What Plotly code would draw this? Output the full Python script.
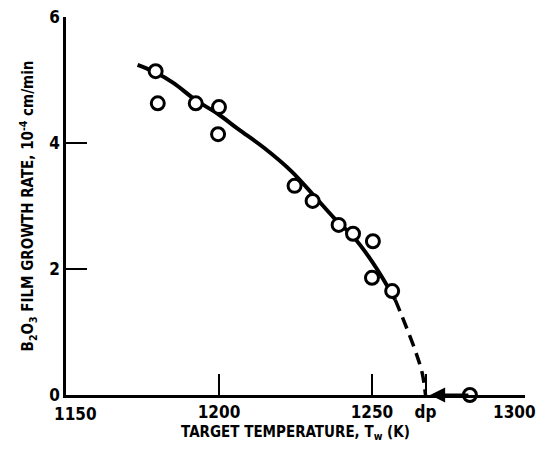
import plotly.graph_objects as go

# measured data points (target temperature K, growth rate 1e-4 cm/min)
temp_pts = [1179.3, 1180.0, 1192.4, 1200.0, 1199.7, 1224.7, 1230.6, 1239.1, 1243.8, 1250.3, 1250.0, 1256.6]
rate_pts = [5.14, 4.63, 4.63, 4.57, 4.14, 3.32, 3.08, 2.70, 2.56, 2.44, 1.86, 1.65]

# point at zero growth (beyond dp)
temp_zero = [1282.0]
rate_zero = [0.0]

# fitted curve, solid part
curve_t = [1173.4, 1179.3, 1185.2, 1192.4, 1199.7, 1206.3, 1214.8, 1223.7, 1231.3, 1237.8, 1244.1, 1249.3, 1253.3, 1257.6]
curve_v = [5.24, 5.12, 4.95, 4.68, 4.46, 4.22, 3.92, 3.55, 3.15, 2.80, 2.50, 2.17, 1.87, 1.51]

# extrapolated (dashed) part
dash_t = [1257.6, 1259.9, 1264.1, 1266.4, 1267.5]
dash_v = [1.51, 1.24, 0.71, 0.35, 0.0]

dp = 1267.5
x_tickvals = [1150, 1200, 1250, dp, 1300]
x_ticktext = ["", "1200", "1250", "dp", ""]
x_first_label = "1150"
x_last_label = "1300"
y_tickvals = [0, 2, 4, 6]
y_ticktext = ["0", "2", "4", "6"]

FONT = "DejaVu Sans Condensed, Liberation Sans Narrow, DejaVu Sans, sans-serif"

fig = go.Figure()
fig.add_trace(go.Scatter(x=curve_t, y=curve_v, mode="lines",
                         line=dict(color="black", width=4, shape="spline", smoothing=1.0),
                         showlegend=False, hoverinfo="skip"))
fig.add_trace(go.Scatter(x=dash_t, y=dash_v, mode="lines",
                         line=dict(color="black", width=3.5, dash="12px,7px", shape="spline"),
                         showlegend=False, hoverinfo="skip"))
fig.add_trace(go.Scatter(x=temp_pts, y=rate_pts, mode="markers",
                         marker=dict(symbol="circle", size=13, color="white",
                                     line=dict(color="black", width=3)),
                         showlegend=False))
fig.add_annotation(x=dp + 1.5, y=0, ax=temp_zero[0], ay=rate_zero[0],
                   xref="x", yref="y", axref="x", ayref="y",
                   showarrow=True, arrowhead=2, arrowsize=1.0, arrowwidth=3,
                   arrowcolor="black", text="")
fig.add_trace(go.Scatter(x=temp_zero, y=rate_zero, mode="markers",
                         marker=dict(symbol="circle", size=13, color="white",
                                     line=dict(color="black", width=3)),
                         showlegend=False, cliponaxis=False))
# end labels of the x axis, nudged as in the original
fig.add_annotation(x=1150, y=0, xref="x", yref="y", text="<b>" + x_first_label + "</b>",
                   showarrow=False, xanchor="center", yanchor="top",
                   xshift=9, yshift=-7,
                   font=dict(family=FONT, size=17, color="black"))
fig.add_annotation(x=1300, y=0, xref="x", yref="y", text="<b>" + x_last_label + "</b>",
                   showarrow=False, xanchor="right", yanchor="top",
                   xshift=13, yshift=-5,
                   font=dict(family=FONT, size=17, color="black"))

fig.update_layout(
    width=542, height=450,
    margin=dict(l=66, r=17, t=17, b=55, autoexpand=False),
    paper_bgcolor="white", plot_bgcolor="white",
    font=dict(family=FONT, color="black", size=15),
    xaxis=dict(range=[1150, 1300.01], tickvals=x_tickvals, ticktext=x_ticktext,
               ticks="inside", ticklen=21, tickwidth=1.5, tickcolor="black",
               automargin=False,
               showline=True, linecolor="black", linewidth=2.5,
               showgrid=False, zeroline=False,
               tickfont=dict(family=FONT, size=17, color="black", weight="bold"),
               title=dict(text="<b>TARGET TEMPERATURE, T<sub>w</sub> (K)</b>",
                          font=dict(family=FONT, size=15, color="black"), standoff=6)),
    yaxis=dict(range=[0, 6], tickvals=y_tickvals, ticktext=y_ticktext,
               ticks="inside", ticklen=21, tickwidth=1.5, tickcolor="black",
               automargin=False,
               showline=True, linecolor="black", linewidth=2.5,
               showgrid=False, zeroline=False,
               tickfont=dict(family=FONT, size=17, color="black", weight="bold"),
               title=dict(text="<b>B<sub>2</sub>O<sub>3</sub> FILM GROWTH RATE, 10<sup>-4</sup> cm/min</b>",
                          font=dict(family=FONT, size=15, color="black"), standoff=12)),
)

fig.write_html("out.html")
